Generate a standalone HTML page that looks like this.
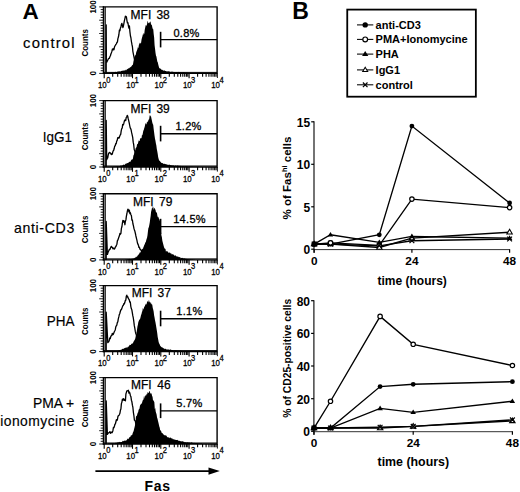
<!DOCTYPE html>
<html><head><meta charset="utf-8"><title>Figure</title><style>
html,body{margin:0;padding:0;background:#fff;width:520px;height:492px;overflow:hidden}
svg{display:block}
text{font-family:"Liberation Sans", sans-serif}
</style></head><body>
<svg width="520" height="492" viewBox="0 0 520 492">
<rect x="103.4" y="6.9" width="2.6" height="66.5" fill="#8a8a8a"/>
<polygon points="106.00,73.40 106.00,73.40 106.45,73.31 106.90,73.22 107.35,73.13 107.80,73.04 108.25,72.97 108.70,72.92 109.15,72.92 109.60,72.59 110.05,72.66 110.50,72.71 110.95,72.85 111.40,72.59 111.85,72.29 112.30,72.53 112.75,72.24 113.20,72.58 113.65,72.28 114.10,72.57 114.55,72.20 115.00,71.96 115.45,71.79 115.90,71.92 116.35,71.99 116.80,72.06 117.25,71.80 117.70,71.51 118.15,71.69 118.60,71.18 119.05,71.53 119.50,71.17 119.95,71.61 120.40,71.42 120.85,71.19 121.30,70.77 121.75,71.05 122.20,70.90 122.65,70.55 123.10,70.42 123.55,70.83 124.00,70.26 124.45,70.39 124.90,70.56 125.35,69.61 125.80,70.47 126.25,70.14 126.70,69.53 127.15,69.16 127.60,68.76 128.05,69.18 128.50,67.65 128.95,68.59 129.40,68.01 129.85,67.38 130.30,67.14 130.75,66.89 131.20,66.41 131.65,66.34 132.10,65.01 132.55,65.35 133.00,64.37 133.45,61.43 133.90,59.61 134.35,56.95 134.80,56.13 135.25,55.23 135.70,55.06 136.15,52.44 136.60,51.15 137.05,50.14 137.50,48.84 137.95,46.98 138.40,48.27 138.85,45.06 139.30,43.95 139.75,42.67 140.20,42.76 140.65,43.68 141.10,42.64 141.55,39.59 142.00,37.83 142.45,36.34 142.90,34.23 143.35,34.84 143.80,32.87 144.25,33.89 144.70,30.02 145.15,27.81 145.60,25.64 146.05,24.61 146.50,26.19 146.95,24.84 147.40,22.11 147.85,20.79 148.30,23.27 148.75,22.95 149.20,23.14 149.65,22.28 150.10,21.71 150.55,21.40 151.00,24.20 151.45,24.71 151.90,25.36 152.35,27.41 152.80,29.11 153.25,29.31 153.70,34.10 154.15,37.43 154.60,45.20 155.05,48.74 155.50,52.87 155.95,55.52 156.40,56.42 156.85,59.10 157.30,61.46 157.75,62.16 158.20,64.37 158.65,66.07 159.10,67.66 159.55,68.18 160.00,68.43 160.45,68.66 160.90,68.64 161.35,69.86 161.80,69.69 162.25,69.86 162.70,70.15 163.15,70.20 163.60,70.73 164.05,70.81 164.50,70.15 164.95,70.83 165.40,70.96 165.85,70.95 166.30,71.14 166.75,71.58 167.20,71.31 167.65,71.57 168.10,71.58 168.55,71.06 169.00,71.86 169.45,71.57 169.90,71.52 170.35,71.82 170.80,72.17 171.25,71.59 171.70,71.67 172.15,71.91 172.60,71.50 173.05,71.67 173.50,71.92 173.95,72.09 174.40,72.07 174.85,72.16 175.30,72.23 175.75,71.97 176.20,72.01 176.65,72.04 177.10,72.07 177.55,72.36 178.00,72.34 178.45,71.84 178.90,72.31 179.35,72.05 179.80,72.06 180.25,72.49 180.70,72.51 181.15,72.50 181.60,72.43 182.05,72.64 182.50,72.16 182.95,72.50 183.40,72.27 183.85,72.30 184.30,72.17 184.75,72.72 185.20,72.79 185.65,72.70 186.10,72.53 186.55,72.68 187.00,72.56 187.45,72.71 187.90,72.98 188.35,73.03 188.80,72.96 189.25,72.92 189.70,72.97 190.15,73.01 190.60,73.02 191.05,73.04 191.50,73.06 191.95,73.08 192.40,73.10 192.85,73.11 193.30,73.13 193.75,73.15 194.20,73.17 194.65,73.19 195.10,73.20 195.55,73.22 196.00,73.24 196.45,73.26 196.90,73.28 197.35,73.29 197.80,73.31 198.25,73.33 198.70,73.35 199.15,73.37 199.60,73.38 200.00,73.40 200.00,73.40" fill="#000"/>
<line x1="103.4" y1="72.4" x2="217.1" y2="72.4" stroke="#000" stroke-width="1.0"/>
<line x1="105.4" y1="6.9" x2="105.4" y2="73.4" stroke="#222" stroke-width="0.9"/>
<polyline points="106.20,73.40 106.20,24.80 106.40,62.27 106.90,61.88 107.40,60.71 107.90,59.88 108.40,58.74 108.90,58.36 109.40,58.36 109.90,56.67 110.40,55.79 110.90,54.00 111.40,52.82 111.90,51.39 112.40,49.03 112.90,49.89 113.40,48.68 113.90,49.75 114.40,47.31 114.90,45.95 115.40,45.30 115.90,44.34 116.40,43.85 116.90,42.56 117.40,42.04 117.90,38.61 118.40,37.02 118.90,34.50 119.40,30.15 119.90,30.84 120.40,28.01 120.90,27.16 121.40,24.39 121.90,23.38 122.40,25.29 122.90,27.53 123.40,25.99 123.90,23.29 124.40,20.69 124.90,18.57 125.40,16.23 125.90,16.44 126.40,16.75 126.90,20.33 127.40,22.80 127.90,22.72 128.40,25.87 128.90,28.19 129.40,25.85 129.90,31.62 130.40,35.75 130.90,37.74 131.40,41.50 131.90,44.24 132.40,46.53 132.90,51.59 133.40,54.02 133.90,56.74 134.40,59.24 134.90,60.35 135.40,61.96 135.90,63.04 136.40,65.46 136.90,66.46 137.40,68.05 137.90,69.34 138.40,70.44 138.90,71.42 139.40,72.58 139.90,73.23 140.00,73.40" fill="none" stroke="#000" stroke-width="1.3" stroke-linejoin="round"/>
<path d="M102.8,6.9 H217.1 V73.4 H102.8" fill="none" stroke="#000" stroke-width="1.4"/>
<line x1="103.4" y1="6.3" x2="103.4" y2="74.0" stroke="#000" stroke-width="1.3"/>
<line x1="99.2" y1="73.4" x2="103.4" y2="73.4" stroke="#000" stroke-width="0.9"/>
<line x1="100.7" y1="70.7" x2="103.4" y2="70.7" stroke="#000" stroke-width="0.9"/>
<line x1="100.7" y1="68.1" x2="103.4" y2="68.1" stroke="#000" stroke-width="0.9"/>
<line x1="100.7" y1="65.4" x2="103.4" y2="65.4" stroke="#000" stroke-width="0.9"/>
<line x1="100.7" y1="62.8" x2="103.4" y2="62.8" stroke="#000" stroke-width="0.9"/>
<line x1="99.2" y1="60.1" x2="103.4" y2="60.1" stroke="#000" stroke-width="0.9"/>
<line x1="100.7" y1="57.4" x2="103.4" y2="57.4" stroke="#000" stroke-width="0.9"/>
<line x1="100.7" y1="54.8" x2="103.4" y2="54.8" stroke="#000" stroke-width="0.9"/>
<line x1="100.7" y1="52.1" x2="103.4" y2="52.1" stroke="#000" stroke-width="0.9"/>
<line x1="100.7" y1="49.5" x2="103.4" y2="49.5" stroke="#000" stroke-width="0.9"/>
<line x1="99.2" y1="46.8" x2="103.4" y2="46.8" stroke="#000" stroke-width="0.9"/>
<line x1="100.7" y1="44.1" x2="103.4" y2="44.1" stroke="#000" stroke-width="0.9"/>
<line x1="100.7" y1="41.5" x2="103.4" y2="41.5" stroke="#000" stroke-width="0.9"/>
<line x1="100.7" y1="38.8" x2="103.4" y2="38.8" stroke="#000" stroke-width="0.9"/>
<line x1="100.7" y1="36.2" x2="103.4" y2="36.2" stroke="#000" stroke-width="0.9"/>
<line x1="99.2" y1="33.5" x2="103.4" y2="33.5" stroke="#000" stroke-width="0.9"/>
<line x1="100.7" y1="30.8" x2="103.4" y2="30.8" stroke="#000" stroke-width="0.9"/>
<line x1="100.7" y1="28.2" x2="103.4" y2="28.2" stroke="#000" stroke-width="0.9"/>
<line x1="100.7" y1="25.5" x2="103.4" y2="25.5" stroke="#000" stroke-width="0.9"/>
<line x1="100.7" y1="22.9" x2="103.4" y2="22.9" stroke="#000" stroke-width="0.9"/>
<line x1="99.2" y1="20.2" x2="103.4" y2="20.2" stroke="#000" stroke-width="0.9"/>
<line x1="100.7" y1="17.5" x2="103.4" y2="17.5" stroke="#000" stroke-width="0.9"/>
<line x1="100.7" y1="14.9" x2="103.4" y2="14.9" stroke="#000" stroke-width="0.9"/>
<line x1="100.7" y1="12.2" x2="103.4" y2="12.2" stroke="#000" stroke-width="0.9"/>
<line x1="100.7" y1="9.6" x2="103.4" y2="9.6" stroke="#000" stroke-width="0.9"/>
<line x1="99.2" y1="6.9" x2="103.4" y2="6.9" stroke="#000" stroke-width="0.9"/>
<line x1="104.2" y1="73.4" x2="104.2" y2="78.2" stroke="#000" stroke-width="1.1"/>
<line x1="112.7" y1="73.4" x2="112.7" y2="76.7" stroke="#000" stroke-width="1.1"/>
<line x1="117.7" y1="73.4" x2="117.7" y2="76.7" stroke="#000" stroke-width="1.1"/>
<line x1="121.2" y1="73.4" x2="121.2" y2="76.7" stroke="#000" stroke-width="1.1"/>
<line x1="124.0" y1="73.4" x2="124.0" y2="76.7" stroke="#000" stroke-width="1.1"/>
<line x1="126.2" y1="73.4" x2="126.2" y2="76.7" stroke="#000" stroke-width="1.1"/>
<line x1="128.1" y1="73.4" x2="128.1" y2="76.7" stroke="#000" stroke-width="1.1"/>
<line x1="129.8" y1="73.4" x2="129.8" y2="76.7" stroke="#000" stroke-width="1.1"/>
<line x1="131.2" y1="73.4" x2="131.2" y2="76.7" stroke="#000" stroke-width="1.1"/>
<line x1="132.5" y1="73.4" x2="132.5" y2="78.2" stroke="#000" stroke-width="1.1"/>
<line x1="141.0" y1="73.4" x2="141.0" y2="76.7" stroke="#000" stroke-width="1.1"/>
<line x1="146.0" y1="73.4" x2="146.0" y2="76.7" stroke="#000" stroke-width="1.1"/>
<line x1="149.5" y1="73.4" x2="149.5" y2="76.7" stroke="#000" stroke-width="1.1"/>
<line x1="152.3" y1="73.4" x2="152.3" y2="76.7" stroke="#000" stroke-width="1.1"/>
<line x1="154.5" y1="73.4" x2="154.5" y2="76.7" stroke="#000" stroke-width="1.1"/>
<line x1="156.4" y1="73.4" x2="156.4" y2="76.7" stroke="#000" stroke-width="1.1"/>
<line x1="158.1" y1="73.4" x2="158.1" y2="76.7" stroke="#000" stroke-width="1.1"/>
<line x1="159.5" y1="73.4" x2="159.5" y2="76.7" stroke="#000" stroke-width="1.1"/>
<line x1="160.8" y1="73.4" x2="160.8" y2="78.2" stroke="#000" stroke-width="1.1"/>
<line x1="169.3" y1="73.4" x2="169.3" y2="76.7" stroke="#000" stroke-width="1.1"/>
<line x1="174.3" y1="73.4" x2="174.3" y2="76.7" stroke="#000" stroke-width="1.1"/>
<line x1="177.8" y1="73.4" x2="177.8" y2="76.7" stroke="#000" stroke-width="1.1"/>
<line x1="180.6" y1="73.4" x2="180.6" y2="76.7" stroke="#000" stroke-width="1.1"/>
<line x1="182.8" y1="73.4" x2="182.8" y2="76.7" stroke="#000" stroke-width="1.1"/>
<line x1="184.7" y1="73.4" x2="184.7" y2="76.7" stroke="#000" stroke-width="1.1"/>
<line x1="186.4" y1="73.4" x2="186.4" y2="76.7" stroke="#000" stroke-width="1.1"/>
<line x1="187.8" y1="73.4" x2="187.8" y2="76.7" stroke="#000" stroke-width="1.1"/>
<line x1="189.1" y1="73.4" x2="189.1" y2="78.2" stroke="#000" stroke-width="1.1"/>
<line x1="197.6" y1="73.4" x2="197.6" y2="76.7" stroke="#000" stroke-width="1.1"/>
<line x1="202.6" y1="73.4" x2="202.6" y2="76.7" stroke="#000" stroke-width="1.1"/>
<line x1="206.1" y1="73.4" x2="206.1" y2="76.7" stroke="#000" stroke-width="1.1"/>
<line x1="208.9" y1="73.4" x2="208.9" y2="76.7" stroke="#000" stroke-width="1.1"/>
<line x1="211.1" y1="73.4" x2="211.1" y2="76.7" stroke="#000" stroke-width="1.1"/>
<line x1="213.0" y1="73.4" x2="213.0" y2="76.7" stroke="#000" stroke-width="1.1"/>
<line x1="214.7" y1="73.4" x2="214.7" y2="76.7" stroke="#000" stroke-width="1.1"/>
<line x1="216.1" y1="73.4" x2="216.1" y2="76.7" stroke="#000" stroke-width="1.1"/>
<line x1="217.4" y1="73.4" x2="217.4" y2="78.0" stroke="#000" stroke-width="0.9"/>
<text transform="translate(98.0,88.1) scale(0.82,1)" font-size="9.6" fill="#000" stroke="#000" stroke-width="0.3">10</text>
<text transform="translate(106.2,82.7) scale(0.84,1)" font-size="9" fill="#000" stroke="#000" stroke-width="0.3">0</text>
<text transform="translate(126.3,88.1) scale(0.82,1)" font-size="9.6" fill="#000" stroke="#000" stroke-width="0.3">10</text>
<text transform="translate(134.5,82.7) scale(0.84,1)" font-size="9" fill="#000" stroke="#000" stroke-width="0.3">1</text>
<text transform="translate(154.6,88.1) scale(0.82,1)" font-size="9.6" fill="#000" stroke="#000" stroke-width="0.3">10</text>
<text transform="translate(162.8,82.7) scale(0.84,1)" font-size="9" fill="#000" stroke="#000" stroke-width="0.3">2</text>
<text transform="translate(182.9,88.1) scale(0.82,1)" font-size="9.6" fill="#000" stroke="#000" stroke-width="0.3">10</text>
<text transform="translate(191.1,82.7) scale(0.84,1)" font-size="9" fill="#000" stroke="#000" stroke-width="0.3">3</text>
<text transform="translate(211.2,88.1) scale(0.82,1)" font-size="9.6" fill="#000" stroke="#000" stroke-width="0.3">10</text>
<text transform="translate(219.4,82.7) scale(0.84,1)" font-size="9" fill="#000" stroke="#000" stroke-width="0.3">4</text>
<text transform="translate(96.0,6.9) rotate(-90) scale(1,1.15)" text-anchor="middle" font-size="8" font-weight="bold" fill="#000">100</text>
<text transform="translate(96.0,73.4) rotate(-90) scale(1,1.15)" text-anchor="middle" font-size="8" font-weight="bold" fill="#000">0</text>
<text transform="translate(87.6,42.8) rotate(-90) scale(1,1.15)" text-anchor="middle" font-size="8" font-weight="bold" fill="#000">Counts</text>
<line x1="160.6" y1="31.8" x2="160.6" y2="47.4" stroke="#000" stroke-width="1.6"/>
<line x1="160.6" y1="39.6" x2="217.1" y2="39.6" stroke="#000" stroke-width="1.4"/>
<text x="173.4" y="37.0" font-size="11" letter-spacing="0.3" fill="#000" stroke="#000" stroke-width="0.3">0.8%</text>
<text x="130.6" y="18.8" font-size="12" fill="#000" stroke="#000" stroke-width="0.25">MFI</text>
<text x="156.4" y="18.8" font-size="12" fill="#000" stroke="#000" stroke-width="0.25">38</text>
<text transform="translate(23.1,47.5) scale(1.1,1.08)" font-size="13.5" letter-spacing="1.03" fill="#000" stroke="#000" stroke-width="0.15">control</text>
<rect x="103.4" y="100.6" width="2.6" height="66.4" fill="#8a8a8a"/>
<polygon points="110.00,167.00 110.00,166.90 110.45,166.86 110.90,166.82 111.35,166.78 111.80,166.74 112.25,166.70 112.70,166.65 113.15,166.61 113.60,166.57 114.05,166.53 114.50,166.57 114.95,166.55 115.40,166.43 115.85,166.17 116.30,166.31 116.75,166.14 117.20,166.30 117.65,166.04 118.10,166.31 118.55,166.20 119.00,166.40 119.45,166.05 119.90,165.98 120.35,165.67 120.80,165.49 121.25,165.81 121.70,165.43 122.15,165.40 122.60,165.24 123.05,165.25 123.50,164.53 123.95,164.41 124.40,164.79 124.85,165.04 125.30,163.63 125.75,163.74 126.20,163.78 126.65,163.32 127.10,163.15 127.55,162.88 128.00,163.11 128.45,162.56 128.90,162.38 129.35,161.62 129.80,161.96 130.25,161.96 130.70,161.09 131.15,160.24 131.60,159.39 132.05,159.72 132.50,159.28 132.95,158.38 133.40,155.59 133.85,154.70 134.30,152.80 134.75,151.23 135.20,150.52 135.65,148.25 136.10,147.47 136.55,147.29 137.00,144.42 137.45,144.08 137.90,143.75 138.35,141.80 138.80,140.14 139.25,140.97 139.70,140.90 140.15,137.99 140.60,138.63 141.05,137.77 141.50,138.50 141.95,134.92 142.40,135.26 142.85,133.19 143.30,130.78 143.75,130.03 144.20,128.25 144.65,127.07 145.10,125.12 145.55,122.86 146.00,124.30 146.45,124.28 146.90,122.15 147.35,121.32 147.80,122.41 148.25,120.62 148.70,119.48 149.15,119.16 149.60,115.88 150.05,114.78 150.50,116.59 150.95,116.04 151.40,118.31 151.85,120.29 152.30,122.40 152.75,124.06 153.20,124.68 153.65,128.85 154.10,132.14 154.55,135.79 155.00,138.75 155.45,140.64 155.90,143.52 156.35,145.55 156.80,148.89 157.25,151.31 157.70,153.66 158.15,156.89 158.60,158.86 159.05,160.22 159.50,160.79 159.95,161.06 160.40,161.69 160.85,162.31 161.30,162.65 161.75,162.90 162.20,162.88 162.65,163.05 163.10,164.03 163.55,163.84 164.00,163.43 164.45,164.12 164.90,163.85 165.35,164.23 165.80,164.12 166.25,164.43 166.70,164.30 167.15,164.48 167.60,164.76 168.05,164.88 168.50,164.38 168.95,165.22 169.40,164.52 169.85,164.77 170.30,165.07 170.75,165.34 171.20,165.24 171.65,165.18 172.10,165.54 172.55,165.37 173.00,165.38 173.45,165.60 173.90,165.32 174.35,165.94 174.80,165.79 175.25,165.56 175.70,165.61 176.15,165.66 176.60,165.81 177.05,165.78 177.50,165.57 177.95,165.56 178.40,165.98 178.85,165.56 179.30,165.69 179.75,166.07 180.20,165.64 180.65,166.02 181.10,166.13 181.55,166.39 182.00,166.23 182.45,166.07 182.90,165.90 183.35,166.31 183.80,166.31 184.25,166.39 184.70,166.41 185.15,166.21 185.60,166.18 186.05,166.10 186.50,166.35 186.95,166.43 187.40,166.26 187.85,166.40 188.30,166.52 188.75,166.62 189.20,166.36 189.65,166.45 190.10,166.50 190.55,166.52 191.00,166.54 191.45,166.56 191.90,166.58 192.35,166.59 192.80,166.61 193.25,166.63 193.70,166.65 194.15,166.67 194.60,166.68 195.05,166.70 195.50,166.72 195.95,166.74 196.40,166.76 196.85,166.77 197.30,166.79 197.75,166.81 198.20,166.83 198.65,166.85 199.10,166.86 199.55,166.88 200.00,166.90 200.00,166.90 200.00,167.00" fill="#000"/>
<line x1="103.4" y1="166.0" x2="217.1" y2="166.0" stroke="#000" stroke-width="1.0"/>
<line x1="105.4" y1="100.6" x2="105.4" y2="167.0" stroke="#222" stroke-width="0.9"/>
<polyline points="106.20,167.00 106.20,120.50 106.70,159.87 107.20,158.38 107.70,158.00 108.20,155.18 108.70,153.22 109.20,152.74 109.70,152.39 110.20,153.19 110.70,153.10 111.20,154.61 111.70,153.88 112.20,154.23 112.70,152.34 113.20,150.82 113.70,150.22 114.20,148.54 114.70,146.09 115.20,145.92 115.70,143.61 116.20,143.75 116.70,141.13 117.20,140.34 117.70,137.84 118.20,137.47 118.70,138.19 119.20,137.85 119.70,136.20 120.20,135.02 120.70,134.43 121.20,130.84 121.70,128.66 122.20,128.15 122.70,124.39 123.20,124.98 123.70,123.96 124.20,121.70 124.70,120.03 125.20,120.02 125.70,120.68 126.20,117.48 126.70,117.10 127.20,115.42 127.70,116.20 128.20,118.63 128.70,120.64 129.20,122.89 129.70,125.50 130.20,127.88 130.70,128.66 131.20,130.27 131.70,132.94 132.20,135.12 132.70,137.39 133.20,142.15 133.70,144.69 134.20,149.48 134.70,150.76 135.20,152.21 135.70,155.14 136.20,156.85 136.70,158.99 137.20,160.17 137.70,162.27 138.20,162.90 138.70,164.45 139.20,165.27 139.70,166.26 140.00,166.90" fill="none" stroke="#000" stroke-width="1.3" stroke-linejoin="round"/>
<path d="M102.8,100.6 H217.1 V167.0 H102.8" fill="none" stroke="#000" stroke-width="1.4"/>
<line x1="103.4" y1="100.0" x2="103.4" y2="167.6" stroke="#000" stroke-width="1.3"/>
<line x1="99.2" y1="167.0" x2="103.4" y2="167.0" stroke="#000" stroke-width="0.9"/>
<line x1="100.7" y1="164.3" x2="103.4" y2="164.3" stroke="#000" stroke-width="0.9"/>
<line x1="100.7" y1="161.7" x2="103.4" y2="161.7" stroke="#000" stroke-width="0.9"/>
<line x1="100.7" y1="159.0" x2="103.4" y2="159.0" stroke="#000" stroke-width="0.9"/>
<line x1="100.7" y1="156.4" x2="103.4" y2="156.4" stroke="#000" stroke-width="0.9"/>
<line x1="99.2" y1="153.7" x2="103.4" y2="153.7" stroke="#000" stroke-width="0.9"/>
<line x1="100.7" y1="151.1" x2="103.4" y2="151.1" stroke="#000" stroke-width="0.9"/>
<line x1="100.7" y1="148.4" x2="103.4" y2="148.4" stroke="#000" stroke-width="0.9"/>
<line x1="100.7" y1="145.8" x2="103.4" y2="145.8" stroke="#000" stroke-width="0.9"/>
<line x1="100.7" y1="143.1" x2="103.4" y2="143.1" stroke="#000" stroke-width="0.9"/>
<line x1="99.2" y1="140.4" x2="103.4" y2="140.4" stroke="#000" stroke-width="0.9"/>
<line x1="100.7" y1="137.8" x2="103.4" y2="137.8" stroke="#000" stroke-width="0.9"/>
<line x1="100.7" y1="135.1" x2="103.4" y2="135.1" stroke="#000" stroke-width="0.9"/>
<line x1="100.7" y1="132.5" x2="103.4" y2="132.5" stroke="#000" stroke-width="0.9"/>
<line x1="100.7" y1="129.8" x2="103.4" y2="129.8" stroke="#000" stroke-width="0.9"/>
<line x1="99.2" y1="127.2" x2="103.4" y2="127.2" stroke="#000" stroke-width="0.9"/>
<line x1="100.7" y1="124.5" x2="103.4" y2="124.5" stroke="#000" stroke-width="0.9"/>
<line x1="100.7" y1="121.8" x2="103.4" y2="121.8" stroke="#000" stroke-width="0.9"/>
<line x1="100.7" y1="119.2" x2="103.4" y2="119.2" stroke="#000" stroke-width="0.9"/>
<line x1="100.7" y1="116.5" x2="103.4" y2="116.5" stroke="#000" stroke-width="0.9"/>
<line x1="99.2" y1="113.9" x2="103.4" y2="113.9" stroke="#000" stroke-width="0.9"/>
<line x1="100.7" y1="111.2" x2="103.4" y2="111.2" stroke="#000" stroke-width="0.9"/>
<line x1="100.7" y1="108.6" x2="103.4" y2="108.6" stroke="#000" stroke-width="0.9"/>
<line x1="100.7" y1="105.9" x2="103.4" y2="105.9" stroke="#000" stroke-width="0.9"/>
<line x1="100.7" y1="103.3" x2="103.4" y2="103.3" stroke="#000" stroke-width="0.9"/>
<line x1="99.2" y1="100.6" x2="103.4" y2="100.6" stroke="#000" stroke-width="0.9"/>
<line x1="104.2" y1="167.0" x2="104.2" y2="171.8" stroke="#000" stroke-width="1.1"/>
<line x1="112.7" y1="167.0" x2="112.7" y2="170.3" stroke="#000" stroke-width="1.1"/>
<line x1="117.7" y1="167.0" x2="117.7" y2="170.3" stroke="#000" stroke-width="1.1"/>
<line x1="121.2" y1="167.0" x2="121.2" y2="170.3" stroke="#000" stroke-width="1.1"/>
<line x1="124.0" y1="167.0" x2="124.0" y2="170.3" stroke="#000" stroke-width="1.1"/>
<line x1="126.2" y1="167.0" x2="126.2" y2="170.3" stroke="#000" stroke-width="1.1"/>
<line x1="128.1" y1="167.0" x2="128.1" y2="170.3" stroke="#000" stroke-width="1.1"/>
<line x1="129.8" y1="167.0" x2="129.8" y2="170.3" stroke="#000" stroke-width="1.1"/>
<line x1="131.2" y1="167.0" x2="131.2" y2="170.3" stroke="#000" stroke-width="1.1"/>
<line x1="132.5" y1="167.0" x2="132.5" y2="171.8" stroke="#000" stroke-width="1.1"/>
<line x1="141.0" y1="167.0" x2="141.0" y2="170.3" stroke="#000" stroke-width="1.1"/>
<line x1="146.0" y1="167.0" x2="146.0" y2="170.3" stroke="#000" stroke-width="1.1"/>
<line x1="149.5" y1="167.0" x2="149.5" y2="170.3" stroke="#000" stroke-width="1.1"/>
<line x1="152.3" y1="167.0" x2="152.3" y2="170.3" stroke="#000" stroke-width="1.1"/>
<line x1="154.5" y1="167.0" x2="154.5" y2="170.3" stroke="#000" stroke-width="1.1"/>
<line x1="156.4" y1="167.0" x2="156.4" y2="170.3" stroke="#000" stroke-width="1.1"/>
<line x1="158.1" y1="167.0" x2="158.1" y2="170.3" stroke="#000" stroke-width="1.1"/>
<line x1="159.5" y1="167.0" x2="159.5" y2="170.3" stroke="#000" stroke-width="1.1"/>
<line x1="160.8" y1="167.0" x2="160.8" y2="171.8" stroke="#000" stroke-width="1.1"/>
<line x1="169.3" y1="167.0" x2="169.3" y2="170.3" stroke="#000" stroke-width="1.1"/>
<line x1="174.3" y1="167.0" x2="174.3" y2="170.3" stroke="#000" stroke-width="1.1"/>
<line x1="177.8" y1="167.0" x2="177.8" y2="170.3" stroke="#000" stroke-width="1.1"/>
<line x1="180.6" y1="167.0" x2="180.6" y2="170.3" stroke="#000" stroke-width="1.1"/>
<line x1="182.8" y1="167.0" x2="182.8" y2="170.3" stroke="#000" stroke-width="1.1"/>
<line x1="184.7" y1="167.0" x2="184.7" y2="170.3" stroke="#000" stroke-width="1.1"/>
<line x1="186.4" y1="167.0" x2="186.4" y2="170.3" stroke="#000" stroke-width="1.1"/>
<line x1="187.8" y1="167.0" x2="187.8" y2="170.3" stroke="#000" stroke-width="1.1"/>
<line x1="189.1" y1="167.0" x2="189.1" y2="171.8" stroke="#000" stroke-width="1.1"/>
<line x1="197.6" y1="167.0" x2="197.6" y2="170.3" stroke="#000" stroke-width="1.1"/>
<line x1="202.6" y1="167.0" x2="202.6" y2="170.3" stroke="#000" stroke-width="1.1"/>
<line x1="206.1" y1="167.0" x2="206.1" y2="170.3" stroke="#000" stroke-width="1.1"/>
<line x1="208.9" y1="167.0" x2="208.9" y2="170.3" stroke="#000" stroke-width="1.1"/>
<line x1="211.1" y1="167.0" x2="211.1" y2="170.3" stroke="#000" stroke-width="1.1"/>
<line x1="213.0" y1="167.0" x2="213.0" y2="170.3" stroke="#000" stroke-width="1.1"/>
<line x1="214.7" y1="167.0" x2="214.7" y2="170.3" stroke="#000" stroke-width="1.1"/>
<line x1="216.1" y1="167.0" x2="216.1" y2="170.3" stroke="#000" stroke-width="1.1"/>
<line x1="217.4" y1="167.0" x2="217.4" y2="171.6" stroke="#000" stroke-width="0.9"/>
<text transform="translate(98.0,181.7) scale(0.82,1)" font-size="9.6" fill="#000" stroke="#000" stroke-width="0.3">10</text>
<text transform="translate(106.2,176.3) scale(0.84,1)" font-size="9" fill="#000" stroke="#000" stroke-width="0.3">0</text>
<text transform="translate(126.3,181.7) scale(0.82,1)" font-size="9.6" fill="#000" stroke="#000" stroke-width="0.3">10</text>
<text transform="translate(134.5,176.3) scale(0.84,1)" font-size="9" fill="#000" stroke="#000" stroke-width="0.3">1</text>
<text transform="translate(154.6,181.7) scale(0.82,1)" font-size="9.6" fill="#000" stroke="#000" stroke-width="0.3">10</text>
<text transform="translate(162.8,176.3) scale(0.84,1)" font-size="9" fill="#000" stroke="#000" stroke-width="0.3">2</text>
<text transform="translate(182.9,181.7) scale(0.82,1)" font-size="9.6" fill="#000" stroke="#000" stroke-width="0.3">10</text>
<text transform="translate(191.1,176.3) scale(0.84,1)" font-size="9" fill="#000" stroke="#000" stroke-width="0.3">3</text>
<text transform="translate(211.2,181.7) scale(0.82,1)" font-size="9.6" fill="#000" stroke="#000" stroke-width="0.3">10</text>
<text transform="translate(219.4,176.3) scale(0.84,1)" font-size="9" fill="#000" stroke="#000" stroke-width="0.3">4</text>
<text transform="translate(96.0,100.6) rotate(-90) scale(1,1.15)" text-anchor="middle" font-size="8" font-weight="bold" fill="#000">100</text>
<text transform="translate(96.0,167.0) rotate(-90) scale(1,1.15)" text-anchor="middle" font-size="8" font-weight="bold" fill="#000">0</text>
<text transform="translate(87.6,136.4) rotate(-90) scale(1,1.15)" text-anchor="middle" font-size="8" font-weight="bold" fill="#000">Counts</text>
<line x1="160.6" y1="125.8" x2="160.6" y2="141.4" stroke="#000" stroke-width="1.6"/>
<line x1="160.6" y1="133.7" x2="217.1" y2="133.7" stroke="#000" stroke-width="1.4"/>
<text x="175.4" y="130.2" font-size="11" letter-spacing="0.3" fill="#000" stroke="#000" stroke-width="0.3">1.2%</text>
<text x="130.6" y="112.8" font-size="12" fill="#000" stroke="#000" stroke-width="0.25">MFI</text>
<text x="156.4" y="112.8" font-size="12" fill="#000" stroke="#000" stroke-width="0.25">39</text>
<text transform="translate(42.8,141.7) scale(1.0,1.08)" font-size="13.5" letter-spacing="0" fill="#000" stroke="#000" stroke-width="0.15">IgG1</text>
<rect x="103.4" y="193.7" width="2.6" height="66.2" fill="#8a8a8a"/>
<polygon points="125.00,259.90 125.00,259.80 125.45,259.73 125.90,259.66 126.35,259.59 126.80,259.52 127.25,259.45 127.70,259.16 128.15,259.21 128.60,259.27 129.05,258.81 129.50,258.94 129.95,258.96 130.40,258.98 130.85,259.03 131.30,259.01 131.75,258.65 132.20,259.09 132.65,258.60 133.10,258.57 133.55,258.60 134.00,258.53 134.45,257.88 134.90,257.74 135.35,257.69 135.80,256.85 136.25,257.33 136.70,256.59 137.15,256.60 137.60,255.56 138.05,255.26 138.50,254.84 138.95,253.76 139.40,253.56 139.85,252.20 140.30,252.74 140.75,251.39 141.20,250.75 141.65,250.27 142.10,249.18 142.55,248.82 143.00,248.65 143.45,247.01 143.90,246.32 144.35,244.78 144.80,244.21 145.25,242.26 145.70,242.46 146.15,240.49 146.60,238.96 147.05,237.64 147.50,235.36 147.95,231.26 148.40,228.02 148.85,227.30 149.30,225.09 149.75,222.53 150.20,219.07 150.65,216.04 151.10,211.84 151.55,210.01 152.00,207.75 152.45,208.50 152.90,205.92 153.35,207.26 153.80,210.11 154.25,207.83 154.70,208.14 155.15,209.30 155.60,210.14 156.05,212.77 156.50,212.11 156.95,212.91 157.40,215.73 157.85,217.36 158.30,216.70 158.75,218.36 159.20,219.00 159.65,221.27 160.10,218.39 160.55,224.63 161.00,232.01 161.45,235.46 161.90,237.23 162.35,240.80 162.80,242.55 163.25,244.26 163.70,245.88 164.15,247.45 164.60,248.61 165.05,248.67 165.50,249.07 165.95,251.69 166.40,250.65 166.85,251.59 167.30,251.25 167.75,251.41 168.20,252.79 168.65,252.62 169.10,252.63 169.55,252.41 170.00,252.39 170.45,253.51 170.90,253.14 171.35,253.57 171.80,254.54 172.25,254.10 172.70,254.27 173.15,254.96 173.60,254.16 174.05,254.73 174.50,255.90 174.95,255.62 175.40,255.37 175.85,255.75 176.30,256.07 176.75,256.81 177.20,256.36 177.65,256.84 178.10,256.55 178.55,257.11 179.00,257.18 179.45,256.98 179.90,257.36 180.35,257.28 180.80,258.67 181.25,257.82 181.70,257.95 182.15,258.15 182.60,257.82 183.05,258.09 183.50,258.41 183.95,258.81 184.40,258.31 184.85,258.42 185.30,258.73 185.75,258.65 186.20,258.89 186.65,258.74 187.10,258.91 187.55,259.02 188.00,259.30 188.45,259.34 188.90,259.29 189.35,259.40 189.80,259.33 190.25,259.28 190.70,259.43 191.15,259.43 191.60,259.47 192.05,259.52 192.50,259.56 192.95,259.60 193.40,259.65 193.85,259.69 194.30,259.73 194.75,259.78 195.00,259.80 195.00,259.90" fill="#000"/>
<line x1="103.4" y1="258.9" x2="217.1" y2="258.9" stroke="#000" stroke-width="1.0"/>
<line x1="105.4" y1="193.7" x2="105.4" y2="259.9" stroke="#222" stroke-width="0.9"/>
<polyline points="106.20,259.90 106.20,221.50 107.40,254.45 107.90,252.73 108.40,251.57 108.90,250.47 109.40,249.31 109.90,249.50 110.40,248.18 110.90,246.98 111.40,246.37 111.90,247.28 112.40,247.43 112.90,248.77 113.40,248.05 113.90,248.32 114.40,249.04 114.90,248.29 115.40,247.05 115.90,246.54 116.40,245.28 116.90,244.21 117.40,240.68 117.90,240.00 118.40,238.55 118.90,237.05 119.40,235.82 119.90,233.53 120.40,234.25 120.90,233.37 121.40,228.33 121.90,226.79 122.40,223.02 122.90,220.41 123.40,222.16 123.90,220.68 124.40,221.93 124.90,224.76 125.40,221.22 125.90,219.89 126.40,216.08 126.90,213.75 127.40,210.95 127.90,209.07 128.40,209.81 128.90,211.88 129.40,210.22 129.90,213.61 130.40,212.88 130.90,214.78 131.40,215.50 131.90,220.17 132.40,219.97 132.90,223.78 133.40,225.67 133.90,228.20 134.40,229.94 134.90,231.32 135.40,233.50 135.90,235.99 136.40,238.05 136.90,240.07 137.40,242.75 137.90,244.17 138.40,245.08 138.90,247.36 139.40,247.26 139.90,248.96 140.40,249.54 140.90,250.22 141.40,250.08 141.90,251.08 142.40,251.82 142.90,252.91 143.40,254.30 143.90,256.06 144.40,257.69 144.90,259.46 145.00,259.80" fill="none" stroke="#000" stroke-width="1.3" stroke-linejoin="round"/>
<path d="M102.8,193.7 H217.1 V259.9 H102.8" fill="none" stroke="#000" stroke-width="1.4"/>
<line x1="103.4" y1="193.1" x2="103.4" y2="260.5" stroke="#000" stroke-width="1.3"/>
<line x1="99.2" y1="259.9" x2="103.4" y2="259.9" stroke="#000" stroke-width="0.9"/>
<line x1="100.7" y1="257.3" x2="103.4" y2="257.3" stroke="#000" stroke-width="0.9"/>
<line x1="100.7" y1="254.6" x2="103.4" y2="254.6" stroke="#000" stroke-width="0.9"/>
<line x1="100.7" y1="252.0" x2="103.4" y2="252.0" stroke="#000" stroke-width="0.9"/>
<line x1="100.7" y1="249.3" x2="103.4" y2="249.3" stroke="#000" stroke-width="0.9"/>
<line x1="99.2" y1="246.7" x2="103.4" y2="246.7" stroke="#000" stroke-width="0.9"/>
<line x1="100.7" y1="244.0" x2="103.4" y2="244.0" stroke="#000" stroke-width="0.9"/>
<line x1="100.7" y1="241.4" x2="103.4" y2="241.4" stroke="#000" stroke-width="0.9"/>
<line x1="100.7" y1="238.7" x2="103.4" y2="238.7" stroke="#000" stroke-width="0.9"/>
<line x1="100.7" y1="236.1" x2="103.4" y2="236.1" stroke="#000" stroke-width="0.9"/>
<line x1="99.2" y1="233.4" x2="103.4" y2="233.4" stroke="#000" stroke-width="0.9"/>
<line x1="100.7" y1="230.8" x2="103.4" y2="230.8" stroke="#000" stroke-width="0.9"/>
<line x1="100.7" y1="228.1" x2="103.4" y2="228.1" stroke="#000" stroke-width="0.9"/>
<line x1="100.7" y1="225.5" x2="103.4" y2="225.5" stroke="#000" stroke-width="0.9"/>
<line x1="100.7" y1="222.8" x2="103.4" y2="222.8" stroke="#000" stroke-width="0.9"/>
<line x1="99.2" y1="220.2" x2="103.4" y2="220.2" stroke="#000" stroke-width="0.9"/>
<line x1="100.7" y1="217.5" x2="103.4" y2="217.5" stroke="#000" stroke-width="0.9"/>
<line x1="100.7" y1="214.9" x2="103.4" y2="214.9" stroke="#000" stroke-width="0.9"/>
<line x1="100.7" y1="212.2" x2="103.4" y2="212.2" stroke="#000" stroke-width="0.9"/>
<line x1="100.7" y1="209.6" x2="103.4" y2="209.6" stroke="#000" stroke-width="0.9"/>
<line x1="99.2" y1="206.9" x2="103.4" y2="206.9" stroke="#000" stroke-width="0.9"/>
<line x1="100.7" y1="204.3" x2="103.4" y2="204.3" stroke="#000" stroke-width="0.9"/>
<line x1="100.7" y1="201.6" x2="103.4" y2="201.6" stroke="#000" stroke-width="0.9"/>
<line x1="100.7" y1="199.0" x2="103.4" y2="199.0" stroke="#000" stroke-width="0.9"/>
<line x1="100.7" y1="196.3" x2="103.4" y2="196.3" stroke="#000" stroke-width="0.9"/>
<line x1="99.2" y1="193.7" x2="103.4" y2="193.7" stroke="#000" stroke-width="0.9"/>
<line x1="104.2" y1="259.9" x2="104.2" y2="264.7" stroke="#000" stroke-width="1.1"/>
<line x1="112.7" y1="259.9" x2="112.7" y2="263.2" stroke="#000" stroke-width="1.1"/>
<line x1="117.7" y1="259.9" x2="117.7" y2="263.2" stroke="#000" stroke-width="1.1"/>
<line x1="121.2" y1="259.9" x2="121.2" y2="263.2" stroke="#000" stroke-width="1.1"/>
<line x1="124.0" y1="259.9" x2="124.0" y2="263.2" stroke="#000" stroke-width="1.1"/>
<line x1="126.2" y1="259.9" x2="126.2" y2="263.2" stroke="#000" stroke-width="1.1"/>
<line x1="128.1" y1="259.9" x2="128.1" y2="263.2" stroke="#000" stroke-width="1.1"/>
<line x1="129.8" y1="259.9" x2="129.8" y2="263.2" stroke="#000" stroke-width="1.1"/>
<line x1="131.2" y1="259.9" x2="131.2" y2="263.2" stroke="#000" stroke-width="1.1"/>
<line x1="132.5" y1="259.9" x2="132.5" y2="264.7" stroke="#000" stroke-width="1.1"/>
<line x1="141.0" y1="259.9" x2="141.0" y2="263.2" stroke="#000" stroke-width="1.1"/>
<line x1="146.0" y1="259.9" x2="146.0" y2="263.2" stroke="#000" stroke-width="1.1"/>
<line x1="149.5" y1="259.9" x2="149.5" y2="263.2" stroke="#000" stroke-width="1.1"/>
<line x1="152.3" y1="259.9" x2="152.3" y2="263.2" stroke="#000" stroke-width="1.1"/>
<line x1="154.5" y1="259.9" x2="154.5" y2="263.2" stroke="#000" stroke-width="1.1"/>
<line x1="156.4" y1="259.9" x2="156.4" y2="263.2" stroke="#000" stroke-width="1.1"/>
<line x1="158.1" y1="259.9" x2="158.1" y2="263.2" stroke="#000" stroke-width="1.1"/>
<line x1="159.5" y1="259.9" x2="159.5" y2="263.2" stroke="#000" stroke-width="1.1"/>
<line x1="160.8" y1="259.9" x2="160.8" y2="264.7" stroke="#000" stroke-width="1.1"/>
<line x1="169.3" y1="259.9" x2="169.3" y2="263.2" stroke="#000" stroke-width="1.1"/>
<line x1="174.3" y1="259.9" x2="174.3" y2="263.2" stroke="#000" stroke-width="1.1"/>
<line x1="177.8" y1="259.9" x2="177.8" y2="263.2" stroke="#000" stroke-width="1.1"/>
<line x1="180.6" y1="259.9" x2="180.6" y2="263.2" stroke="#000" stroke-width="1.1"/>
<line x1="182.8" y1="259.9" x2="182.8" y2="263.2" stroke="#000" stroke-width="1.1"/>
<line x1="184.7" y1="259.9" x2="184.7" y2="263.2" stroke="#000" stroke-width="1.1"/>
<line x1="186.4" y1="259.9" x2="186.4" y2="263.2" stroke="#000" stroke-width="1.1"/>
<line x1="187.8" y1="259.9" x2="187.8" y2="263.2" stroke="#000" stroke-width="1.1"/>
<line x1="189.1" y1="259.9" x2="189.1" y2="264.7" stroke="#000" stroke-width="1.1"/>
<line x1="197.6" y1="259.9" x2="197.6" y2="263.2" stroke="#000" stroke-width="1.1"/>
<line x1="202.6" y1="259.9" x2="202.6" y2="263.2" stroke="#000" stroke-width="1.1"/>
<line x1="206.1" y1="259.9" x2="206.1" y2="263.2" stroke="#000" stroke-width="1.1"/>
<line x1="208.9" y1="259.9" x2="208.9" y2="263.2" stroke="#000" stroke-width="1.1"/>
<line x1="211.1" y1="259.9" x2="211.1" y2="263.2" stroke="#000" stroke-width="1.1"/>
<line x1="213.0" y1="259.9" x2="213.0" y2="263.2" stroke="#000" stroke-width="1.1"/>
<line x1="214.7" y1="259.9" x2="214.7" y2="263.2" stroke="#000" stroke-width="1.1"/>
<line x1="216.1" y1="259.9" x2="216.1" y2="263.2" stroke="#000" stroke-width="1.1"/>
<line x1="217.4" y1="259.9" x2="217.4" y2="264.5" stroke="#000" stroke-width="0.9"/>
<text transform="translate(98.0,274.6) scale(0.82,1)" font-size="9.6" fill="#000" stroke="#000" stroke-width="0.3">10</text>
<text transform="translate(106.2,269.2) scale(0.84,1)" font-size="9" fill="#000" stroke="#000" stroke-width="0.3">0</text>
<text transform="translate(126.3,274.6) scale(0.82,1)" font-size="9.6" fill="#000" stroke="#000" stroke-width="0.3">10</text>
<text transform="translate(134.5,269.2) scale(0.84,1)" font-size="9" fill="#000" stroke="#000" stroke-width="0.3">1</text>
<text transform="translate(154.6,274.6) scale(0.82,1)" font-size="9.6" fill="#000" stroke="#000" stroke-width="0.3">10</text>
<text transform="translate(162.8,269.2) scale(0.84,1)" font-size="9" fill="#000" stroke="#000" stroke-width="0.3">2</text>
<text transform="translate(182.9,274.6) scale(0.82,1)" font-size="9.6" fill="#000" stroke="#000" stroke-width="0.3">10</text>
<text transform="translate(191.1,269.2) scale(0.84,1)" font-size="9" fill="#000" stroke="#000" stroke-width="0.3">3</text>
<text transform="translate(211.2,274.6) scale(0.82,1)" font-size="9.6" fill="#000" stroke="#000" stroke-width="0.3">10</text>
<text transform="translate(219.4,269.2) scale(0.84,1)" font-size="9" fill="#000" stroke="#000" stroke-width="0.3">4</text>
<text transform="translate(96.0,193.7) rotate(-90) scale(1,1.15)" text-anchor="middle" font-size="8" font-weight="bold" fill="#000">100</text>
<text transform="translate(96.0,259.9) rotate(-90) scale(1,1.15)" text-anchor="middle" font-size="8" font-weight="bold" fill="#000">0</text>
<text transform="translate(87.6,229.4) rotate(-90) scale(1,1.15)" text-anchor="middle" font-size="8" font-weight="bold" fill="#000">Counts</text>
<line x1="160.6" y1="218.8" x2="160.6" y2="234.0" stroke="#000" stroke-width="1.6"/>
<line x1="160.6" y1="226.6" x2="217.1" y2="226.6" stroke="#000" stroke-width="1.4"/>
<text x="173.2" y="222.8" font-size="11" letter-spacing="0.3" fill="#000" stroke="#000" stroke-width="0.3">14.5%</text>
<text x="133.0" y="205.5" font-size="12" fill="#000" stroke="#000" stroke-width="0.25">MFI</text>
<text x="159.0" y="205.5" font-size="12" fill="#000" stroke="#000" stroke-width="0.25">79</text>
<text transform="translate(13.9,233.4) scale(1.05,1.08)" font-size="13.5" letter-spacing="0.62" fill="#000" stroke="#000" stroke-width="0.15">anti-CD3</text>
<rect x="103.4" y="285.6" width="2.6" height="66.0" fill="#8a8a8a"/>
<polygon points="110.00,351.60 110.00,351.50 110.45,351.48 110.90,351.45 111.35,351.43 111.80,351.40 112.25,351.38 112.70,351.35 113.15,351.33 113.60,351.31 114.05,351.28 114.50,351.26 114.95,351.23 115.40,351.21 115.85,351.18 116.30,351.16 116.75,351.14 117.20,351.11 117.65,350.87 118.10,350.69 118.55,350.48 119.00,350.29 119.45,349.89 119.90,350.24 120.35,349.96 120.80,349.66 121.25,349.65 121.70,349.57 122.15,349.02 122.60,348.87 123.05,348.97 123.50,348.64 123.95,348.57 124.40,348.10 124.85,348.32 125.30,347.50 125.75,348.04 126.20,347.35 126.65,347.56 127.10,348.32 127.55,346.65 128.00,347.04 128.45,346.63 128.90,345.95 129.35,345.62 129.80,344.78 130.25,344.93 130.70,345.00 131.15,344.20 131.60,343.75 132.05,343.52 132.50,343.65 132.95,342.82 133.40,342.31 133.85,340.88 134.30,340.57 134.75,339.84 135.20,338.78 135.65,336.78 136.10,335.50 136.55,332.29 137.00,329.77 137.45,326.60 137.90,324.75 138.35,322.05 138.80,321.12 139.25,319.64 139.70,319.62 140.15,318.64 140.60,317.10 141.05,315.11 141.50,313.97 141.95,312.06 142.40,311.09 142.85,307.95 143.30,308.59 143.75,309.85 144.20,306.56 144.65,306.69 145.10,305.21 145.55,304.50 146.00,303.39 146.45,304.71 146.90,302.77 147.35,301.37 147.80,301.31 148.25,302.39 148.70,300.28 149.15,300.45 149.60,302.39 150.05,301.67 150.50,303.80 150.95,301.88 151.40,304.68 151.85,303.68 152.30,304.92 152.75,307.88 153.20,309.46 153.65,311.61 154.10,315.22 154.55,317.61 155.00,320.22 155.45,322.13 155.90,324.83 156.35,327.54 156.80,330.33 157.25,333.25 157.70,337.04 158.15,339.30 158.60,341.87 159.05,343.20 159.50,343.97 159.95,344.88 160.40,346.28 160.85,346.30 161.30,347.02 161.75,347.36 162.20,347.49 162.65,347.57 163.10,347.88 163.55,348.28 164.00,348.60 164.45,348.74 164.90,349.16 165.35,349.03 165.80,348.48 166.25,349.49 166.70,349.52 167.15,349.29 167.60,349.71 168.05,349.30 168.50,349.50 168.95,349.72 169.40,349.63 169.85,349.86 170.30,349.54 170.75,349.52 171.20,349.87 171.65,350.33 172.10,349.96 172.55,350.26 173.00,350.08 173.45,350.39 173.90,350.64 174.35,350.30 174.80,350.27 175.25,350.48 175.70,350.12 176.15,350.09 176.60,350.51 177.05,350.66 177.50,350.28 177.95,350.80 178.40,350.53 178.85,350.63 179.30,350.50 179.75,351.01 180.20,350.62 180.65,350.84 181.10,350.56 181.55,351.42 182.00,350.91 182.45,351.15 182.90,350.88 183.35,350.98 183.80,350.88 184.25,351.02 184.70,351.01 185.15,350.92 185.60,351.00 186.05,351.14 186.50,350.95 186.95,351.12 187.40,351.15 187.85,351.18 188.30,351.20 188.75,351.23 189.20,351.25 189.65,351.28 190.10,351.30 190.55,351.31 191.00,351.32 191.45,351.33 191.90,351.34 192.35,351.35 192.80,351.36 193.25,351.36 193.70,351.37 194.15,351.38 194.60,351.39 195.05,351.40 195.50,351.41 195.95,351.42 196.40,351.43 196.85,351.44 197.30,351.45 197.75,351.45 198.20,351.46 198.65,351.47 199.10,351.48 199.55,351.49 200.00,351.50 200.00,351.50 200.00,351.60" fill="#000"/>
<line x1="103.4" y1="350.6" x2="217.1" y2="350.6" stroke="#000" stroke-width="1.0"/>
<line x1="105.4" y1="285.6" x2="105.4" y2="351.6" stroke="#222" stroke-width="0.9"/>
<polyline points="106.20,351.60 106.20,312.20 107.80,342.62 108.30,341.99 108.80,341.63 109.30,340.25 109.80,337.99 110.30,338.52 110.80,336.36 111.30,335.78 111.80,335.06 112.30,333.40 112.80,334.72 113.30,334.29 113.80,332.92 114.30,331.74 114.80,330.81 115.30,329.70 115.80,326.79 116.30,325.92 116.80,325.06 117.30,322.62 117.80,321.90 118.30,318.96 118.80,316.91 119.30,314.62 119.80,313.47 120.30,311.48 120.80,309.93 121.30,309.63 121.80,308.65 122.30,307.12 122.80,305.76 123.30,305.39 123.80,303.74 124.30,304.01 124.80,302.59 125.30,300.48 125.80,300.14 126.30,296.31 126.80,295.13 127.30,296.98 127.80,296.70 128.30,298.44 128.80,299.23 129.30,299.98 129.80,302.07 130.30,301.89 130.80,306.33 131.30,308.59 131.80,309.69 132.30,312.60 132.80,315.70 133.30,317.98 133.80,321.46 134.30,325.68 134.80,328.22 135.30,331.45 135.80,333.51 136.30,334.78 136.80,337.84 137.30,339.57 137.80,341.90 138.30,343.04 138.80,346.03 139.30,348.27 139.80,350.64 140.00,351.50" fill="none" stroke="#000" stroke-width="1.3" stroke-linejoin="round"/>
<path d="M102.8,285.6 H217.1 V351.6 H102.8" fill="none" stroke="#000" stroke-width="1.4"/>
<line x1="103.4" y1="285.0" x2="103.4" y2="352.2" stroke="#000" stroke-width="1.3"/>
<line x1="99.2" y1="351.6" x2="103.4" y2="351.6" stroke="#000" stroke-width="0.9"/>
<line x1="100.7" y1="349.0" x2="103.4" y2="349.0" stroke="#000" stroke-width="0.9"/>
<line x1="100.7" y1="346.3" x2="103.4" y2="346.3" stroke="#000" stroke-width="0.9"/>
<line x1="100.7" y1="343.7" x2="103.4" y2="343.7" stroke="#000" stroke-width="0.9"/>
<line x1="100.7" y1="341.0" x2="103.4" y2="341.0" stroke="#000" stroke-width="0.9"/>
<line x1="99.2" y1="338.4" x2="103.4" y2="338.4" stroke="#000" stroke-width="0.9"/>
<line x1="100.7" y1="335.8" x2="103.4" y2="335.8" stroke="#000" stroke-width="0.9"/>
<line x1="100.7" y1="333.1" x2="103.4" y2="333.1" stroke="#000" stroke-width="0.9"/>
<line x1="100.7" y1="330.5" x2="103.4" y2="330.5" stroke="#000" stroke-width="0.9"/>
<line x1="100.7" y1="327.8" x2="103.4" y2="327.8" stroke="#000" stroke-width="0.9"/>
<line x1="99.2" y1="325.2" x2="103.4" y2="325.2" stroke="#000" stroke-width="0.9"/>
<line x1="100.7" y1="322.6" x2="103.4" y2="322.6" stroke="#000" stroke-width="0.9"/>
<line x1="100.7" y1="319.9" x2="103.4" y2="319.9" stroke="#000" stroke-width="0.9"/>
<line x1="100.7" y1="317.3" x2="103.4" y2="317.3" stroke="#000" stroke-width="0.9"/>
<line x1="100.7" y1="314.6" x2="103.4" y2="314.6" stroke="#000" stroke-width="0.9"/>
<line x1="99.2" y1="312.0" x2="103.4" y2="312.0" stroke="#000" stroke-width="0.9"/>
<line x1="100.7" y1="309.4" x2="103.4" y2="309.4" stroke="#000" stroke-width="0.9"/>
<line x1="100.7" y1="306.7" x2="103.4" y2="306.7" stroke="#000" stroke-width="0.9"/>
<line x1="100.7" y1="304.1" x2="103.4" y2="304.1" stroke="#000" stroke-width="0.9"/>
<line x1="100.7" y1="301.4" x2="103.4" y2="301.4" stroke="#000" stroke-width="0.9"/>
<line x1="99.2" y1="298.8" x2="103.4" y2="298.8" stroke="#000" stroke-width="0.9"/>
<line x1="100.7" y1="296.2" x2="103.4" y2="296.2" stroke="#000" stroke-width="0.9"/>
<line x1="100.7" y1="293.5" x2="103.4" y2="293.5" stroke="#000" stroke-width="0.9"/>
<line x1="100.7" y1="290.9" x2="103.4" y2="290.9" stroke="#000" stroke-width="0.9"/>
<line x1="100.7" y1="288.2" x2="103.4" y2="288.2" stroke="#000" stroke-width="0.9"/>
<line x1="99.2" y1="285.6" x2="103.4" y2="285.6" stroke="#000" stroke-width="0.9"/>
<line x1="104.2" y1="351.6" x2="104.2" y2="356.4" stroke="#000" stroke-width="1.1"/>
<line x1="112.7" y1="351.6" x2="112.7" y2="354.9" stroke="#000" stroke-width="1.1"/>
<line x1="117.7" y1="351.6" x2="117.7" y2="354.9" stroke="#000" stroke-width="1.1"/>
<line x1="121.2" y1="351.6" x2="121.2" y2="354.9" stroke="#000" stroke-width="1.1"/>
<line x1="124.0" y1="351.6" x2="124.0" y2="354.9" stroke="#000" stroke-width="1.1"/>
<line x1="126.2" y1="351.6" x2="126.2" y2="354.9" stroke="#000" stroke-width="1.1"/>
<line x1="128.1" y1="351.6" x2="128.1" y2="354.9" stroke="#000" stroke-width="1.1"/>
<line x1="129.8" y1="351.6" x2="129.8" y2="354.9" stroke="#000" stroke-width="1.1"/>
<line x1="131.2" y1="351.6" x2="131.2" y2="354.9" stroke="#000" stroke-width="1.1"/>
<line x1="132.5" y1="351.6" x2="132.5" y2="356.4" stroke="#000" stroke-width="1.1"/>
<line x1="141.0" y1="351.6" x2="141.0" y2="354.9" stroke="#000" stroke-width="1.1"/>
<line x1="146.0" y1="351.6" x2="146.0" y2="354.9" stroke="#000" stroke-width="1.1"/>
<line x1="149.5" y1="351.6" x2="149.5" y2="354.9" stroke="#000" stroke-width="1.1"/>
<line x1="152.3" y1="351.6" x2="152.3" y2="354.9" stroke="#000" stroke-width="1.1"/>
<line x1="154.5" y1="351.6" x2="154.5" y2="354.9" stroke="#000" stroke-width="1.1"/>
<line x1="156.4" y1="351.6" x2="156.4" y2="354.9" stroke="#000" stroke-width="1.1"/>
<line x1="158.1" y1="351.6" x2="158.1" y2="354.9" stroke="#000" stroke-width="1.1"/>
<line x1="159.5" y1="351.6" x2="159.5" y2="354.9" stroke="#000" stroke-width="1.1"/>
<line x1="160.8" y1="351.6" x2="160.8" y2="356.4" stroke="#000" stroke-width="1.1"/>
<line x1="169.3" y1="351.6" x2="169.3" y2="354.9" stroke="#000" stroke-width="1.1"/>
<line x1="174.3" y1="351.6" x2="174.3" y2="354.9" stroke="#000" stroke-width="1.1"/>
<line x1="177.8" y1="351.6" x2="177.8" y2="354.9" stroke="#000" stroke-width="1.1"/>
<line x1="180.6" y1="351.6" x2="180.6" y2="354.9" stroke="#000" stroke-width="1.1"/>
<line x1="182.8" y1="351.6" x2="182.8" y2="354.9" stroke="#000" stroke-width="1.1"/>
<line x1="184.7" y1="351.6" x2="184.7" y2="354.9" stroke="#000" stroke-width="1.1"/>
<line x1="186.4" y1="351.6" x2="186.4" y2="354.9" stroke="#000" stroke-width="1.1"/>
<line x1="187.8" y1="351.6" x2="187.8" y2="354.9" stroke="#000" stroke-width="1.1"/>
<line x1="189.1" y1="351.6" x2="189.1" y2="356.4" stroke="#000" stroke-width="1.1"/>
<line x1="197.6" y1="351.6" x2="197.6" y2="354.9" stroke="#000" stroke-width="1.1"/>
<line x1="202.6" y1="351.6" x2="202.6" y2="354.9" stroke="#000" stroke-width="1.1"/>
<line x1="206.1" y1="351.6" x2="206.1" y2="354.9" stroke="#000" stroke-width="1.1"/>
<line x1="208.9" y1="351.6" x2="208.9" y2="354.9" stroke="#000" stroke-width="1.1"/>
<line x1="211.1" y1="351.6" x2="211.1" y2="354.9" stroke="#000" stroke-width="1.1"/>
<line x1="213.0" y1="351.6" x2="213.0" y2="354.9" stroke="#000" stroke-width="1.1"/>
<line x1="214.7" y1="351.6" x2="214.7" y2="354.9" stroke="#000" stroke-width="1.1"/>
<line x1="216.1" y1="351.6" x2="216.1" y2="354.9" stroke="#000" stroke-width="1.1"/>
<line x1="217.4" y1="351.6" x2="217.4" y2="356.2" stroke="#000" stroke-width="0.9"/>
<text transform="translate(98.0,366.3) scale(0.82,1)" font-size="9.6" fill="#000" stroke="#000" stroke-width="0.3">10</text>
<text transform="translate(106.2,360.9) scale(0.84,1)" font-size="9" fill="#000" stroke="#000" stroke-width="0.3">0</text>
<text transform="translate(126.3,366.3) scale(0.82,1)" font-size="9.6" fill="#000" stroke="#000" stroke-width="0.3">10</text>
<text transform="translate(134.5,360.9) scale(0.84,1)" font-size="9" fill="#000" stroke="#000" stroke-width="0.3">1</text>
<text transform="translate(154.6,366.3) scale(0.82,1)" font-size="9.6" fill="#000" stroke="#000" stroke-width="0.3">10</text>
<text transform="translate(162.8,360.9) scale(0.84,1)" font-size="9" fill="#000" stroke="#000" stroke-width="0.3">2</text>
<text transform="translate(182.9,366.3) scale(0.82,1)" font-size="9.6" fill="#000" stroke="#000" stroke-width="0.3">10</text>
<text transform="translate(191.1,360.9) scale(0.84,1)" font-size="9" fill="#000" stroke="#000" stroke-width="0.3">3</text>
<text transform="translate(211.2,366.3) scale(0.82,1)" font-size="9.6" fill="#000" stroke="#000" stroke-width="0.3">10</text>
<text transform="translate(219.4,360.9) scale(0.84,1)" font-size="9" fill="#000" stroke="#000" stroke-width="0.3">4</text>
<text transform="translate(96.0,285.6) rotate(-90) scale(1,1.15)" text-anchor="middle" font-size="8" font-weight="bold" fill="#000">100</text>
<text transform="translate(96.0,351.6) rotate(-90) scale(1,1.15)" text-anchor="middle" font-size="8" font-weight="bold" fill="#000">0</text>
<text transform="translate(87.6,321.2) rotate(-90) scale(1,1.15)" text-anchor="middle" font-size="8" font-weight="bold" fill="#000">Counts</text>
<line x1="160.6" y1="310.7" x2="160.6" y2="326.3" stroke="#000" stroke-width="1.6"/>
<line x1="160.6" y1="318.8" x2="217.1" y2="318.8" stroke="#000" stroke-width="1.4"/>
<text x="176.3" y="314.7" font-size="11" letter-spacing="0.3" fill="#000" stroke="#000" stroke-width="0.3">1.1%</text>
<text x="131.8" y="297.4" font-size="12" fill="#000" stroke="#000" stroke-width="0.25">MFI</text>
<text x="157.6" y="297.4" font-size="12" fill="#000" stroke="#000" stroke-width="0.25">37</text>
<text transform="translate(46.7,326.2) scale(1.0,1.08)" font-size="13.5" letter-spacing="0" fill="#000" stroke="#000" stroke-width="0.15">PHA</text>
<rect x="103.4" y="377.6" width="2.6" height="66.4" fill="#8a8a8a"/>
<polygon points="108.00,444.00 108.00,443.50 108.45,443.48 108.90,443.50 109.35,443.47 109.80,443.38 110.25,443.47 110.70,443.15 111.15,443.19 111.60,443.30 112.05,443.30 112.50,443.16 112.95,443.17 113.40,443.17 113.85,443.04 114.30,443.60 114.75,443.18 115.20,443.00 115.65,442.75 116.10,442.74 116.55,442.69 117.00,442.76 117.45,442.15 117.90,442.40 118.35,442.50 118.80,442.10 119.25,441.69 119.70,442.26 120.15,442.07 120.60,442.32 121.05,442.07 121.50,441.91 121.95,441.90 122.40,441.25 122.85,440.81 123.30,441.29 123.75,441.05 124.20,440.42 124.65,440.78 125.10,440.80 125.55,440.66 126.00,440.14 126.45,440.43 126.90,439.72 127.35,438.97 127.80,438.49 128.25,439.14 128.70,438.41 129.15,437.84 129.60,436.94 130.05,437.26 130.50,436.53 130.95,435.36 131.40,435.54 131.85,434.96 132.30,434.63 132.75,432.95 133.20,431.97 133.65,431.06 134.10,428.91 134.55,427.18 135.00,425.17 135.45,422.72 135.90,417.36 136.35,415.80 136.80,416.12 137.25,414.14 137.70,412.79 138.15,412.27 138.60,409.72 139.05,409.35 139.50,408.54 139.95,405.79 140.40,404.67 140.85,404.14 141.30,403.98 141.75,403.23 142.20,402.29 142.65,400.45 143.10,400.10 143.55,399.21 144.00,395.63 144.45,398.77 144.90,395.94 145.35,396.24 145.80,394.86 146.25,395.58 146.70,393.81 147.15,394.24 147.60,392.27 148.05,392.15 148.50,392.91 148.95,392.79 149.40,390.90 149.85,390.88 150.30,394.33 150.75,392.84 151.20,393.26 151.65,393.99 152.10,396.02 152.55,396.68 153.00,400.43 153.45,400.34 153.90,401.13 154.35,402.28 154.80,409.08 155.25,408.08 155.70,411.55 156.15,412.90 156.60,414.39 157.05,417.45 157.50,418.65 157.95,420.82 158.40,422.47 158.85,424.55 159.30,426.49 159.75,427.86 160.20,430.38 160.65,430.31 161.10,430.96 161.55,432.57 162.00,433.28 162.45,432.99 162.90,433.70 163.35,434.48 163.80,434.55 164.25,435.16 164.70,435.20 165.15,435.30 165.60,435.40 166.05,435.32 166.50,436.00 166.95,436.39 167.40,437.49 167.85,436.98 168.30,437.19 168.75,437.61 169.20,438.17 169.65,437.70 170.10,437.00 170.55,437.89 171.00,437.80 171.45,438.68 171.90,438.08 172.35,438.39 172.80,439.16 173.25,439.20 173.70,439.30 174.15,439.23 174.60,439.58 175.05,440.21 175.50,439.48 175.95,439.88 176.40,439.91 176.85,440.02 177.30,440.31 177.75,439.82 178.20,440.23 178.65,440.94 179.10,440.95 179.55,440.80 180.00,440.80 180.45,441.19 180.90,441.15 181.35,441.21 181.80,441.43 182.25,441.28 182.70,441.28 183.15,441.56 183.60,441.64 184.05,441.63 184.50,442.19 184.95,442.16 185.40,442.12 185.85,442.39 186.30,442.46 186.75,442.28 187.20,442.25 187.65,442.23 188.10,442.47 188.55,442.40 189.00,442.26 189.45,442.64 189.90,442.18 190.35,442.66 190.80,442.69 191.25,442.31 191.70,442.52 192.15,442.83 192.60,442.81 193.05,442.70 193.50,443.02 193.95,443.00 194.40,442.76 194.85,443.28 195.30,442.89 195.75,442.97 196.20,442.98 196.65,443.07 197.10,443.35 197.55,443.18 198.00,443.25 198.45,443.43 198.90,443.29 199.35,443.44 199.80,443.24 200.25,443.63 200.70,443.42 201.15,443.38 201.60,443.49 202.00,443.50 202.00,444.00" fill="#000"/>
<line x1="103.4" y1="443.0" x2="217.1" y2="443.0" stroke="#000" stroke-width="1.0"/>
<line x1="105.4" y1="377.6" x2="105.4" y2="444.0" stroke="#222" stroke-width="0.9"/>
<polyline points="106.20,444.00 106.20,400.80 107.40,434.45 107.90,433.54 108.40,433.08 108.90,432.60 109.40,432.45 109.90,431.69 110.40,433.31 110.90,432.04 111.40,432.14 111.90,432.81 112.40,432.09 112.90,430.68 113.40,427.49 113.90,427.73 114.40,426.37 114.90,424.23 115.40,423.87 115.90,421.75 116.40,419.70 116.90,420.50 117.40,419.77 117.90,416.60 118.40,415.66 118.90,415.46 119.40,414.50 119.90,413.33 120.40,410.34 120.90,409.05 121.40,403.67 121.90,402.07 122.40,399.06 122.90,400.37 123.40,398.56 123.90,399.49 124.40,400.31 124.90,399.13 125.40,400.92 125.90,394.03 126.40,392.38 126.90,390.82 127.40,390.87 127.90,390.55 128.40,390.27 128.90,393.19 129.40,392.05 129.90,393.35 130.40,395.74 130.90,396.65 131.40,400.20 131.90,401.80 132.40,405.19 132.90,407.44 133.40,412.50 133.90,415.64 134.40,420.09 134.90,420.42 135.40,421.38 135.90,424.60 136.40,426.12 136.90,429.05 137.40,431.40 137.90,433.53 138.40,436.51 138.90,437.85 139.40,440.82 139.90,443.18 140.00,443.50" fill="none" stroke="#000" stroke-width="1.3" stroke-linejoin="round"/>
<path d="M102.8,377.6 H217.1 V444.0 H102.8" fill="none" stroke="#000" stroke-width="1.4"/>
<line x1="103.4" y1="377.0" x2="103.4" y2="444.6" stroke="#000" stroke-width="1.3"/>
<line x1="99.2" y1="444.0" x2="103.4" y2="444.0" stroke="#000" stroke-width="0.9"/>
<line x1="100.7" y1="441.3" x2="103.4" y2="441.3" stroke="#000" stroke-width="0.9"/>
<line x1="100.7" y1="438.7" x2="103.4" y2="438.7" stroke="#000" stroke-width="0.9"/>
<line x1="100.7" y1="436.0" x2="103.4" y2="436.0" stroke="#000" stroke-width="0.9"/>
<line x1="100.7" y1="433.4" x2="103.4" y2="433.4" stroke="#000" stroke-width="0.9"/>
<line x1="99.2" y1="430.7" x2="103.4" y2="430.7" stroke="#000" stroke-width="0.9"/>
<line x1="100.7" y1="428.1" x2="103.4" y2="428.1" stroke="#000" stroke-width="0.9"/>
<line x1="100.7" y1="425.4" x2="103.4" y2="425.4" stroke="#000" stroke-width="0.9"/>
<line x1="100.7" y1="422.8" x2="103.4" y2="422.8" stroke="#000" stroke-width="0.9"/>
<line x1="100.7" y1="420.1" x2="103.4" y2="420.1" stroke="#000" stroke-width="0.9"/>
<line x1="99.2" y1="417.4" x2="103.4" y2="417.4" stroke="#000" stroke-width="0.9"/>
<line x1="100.7" y1="414.8" x2="103.4" y2="414.8" stroke="#000" stroke-width="0.9"/>
<line x1="100.7" y1="412.1" x2="103.4" y2="412.1" stroke="#000" stroke-width="0.9"/>
<line x1="100.7" y1="409.5" x2="103.4" y2="409.5" stroke="#000" stroke-width="0.9"/>
<line x1="100.7" y1="406.8" x2="103.4" y2="406.8" stroke="#000" stroke-width="0.9"/>
<line x1="99.2" y1="404.2" x2="103.4" y2="404.2" stroke="#000" stroke-width="0.9"/>
<line x1="100.7" y1="401.5" x2="103.4" y2="401.5" stroke="#000" stroke-width="0.9"/>
<line x1="100.7" y1="398.8" x2="103.4" y2="398.8" stroke="#000" stroke-width="0.9"/>
<line x1="100.7" y1="396.2" x2="103.4" y2="396.2" stroke="#000" stroke-width="0.9"/>
<line x1="100.7" y1="393.5" x2="103.4" y2="393.5" stroke="#000" stroke-width="0.9"/>
<line x1="99.2" y1="390.9" x2="103.4" y2="390.9" stroke="#000" stroke-width="0.9"/>
<line x1="100.7" y1="388.2" x2="103.4" y2="388.2" stroke="#000" stroke-width="0.9"/>
<line x1="100.7" y1="385.6" x2="103.4" y2="385.6" stroke="#000" stroke-width="0.9"/>
<line x1="100.7" y1="382.9" x2="103.4" y2="382.9" stroke="#000" stroke-width="0.9"/>
<line x1="100.7" y1="380.3" x2="103.4" y2="380.3" stroke="#000" stroke-width="0.9"/>
<line x1="99.2" y1="377.6" x2="103.4" y2="377.6" stroke="#000" stroke-width="0.9"/>
<line x1="104.2" y1="444.0" x2="104.2" y2="448.8" stroke="#000" stroke-width="1.1"/>
<line x1="112.7" y1="444.0" x2="112.7" y2="447.3" stroke="#000" stroke-width="1.1"/>
<line x1="117.7" y1="444.0" x2="117.7" y2="447.3" stroke="#000" stroke-width="1.1"/>
<line x1="121.2" y1="444.0" x2="121.2" y2="447.3" stroke="#000" stroke-width="1.1"/>
<line x1="124.0" y1="444.0" x2="124.0" y2="447.3" stroke="#000" stroke-width="1.1"/>
<line x1="126.2" y1="444.0" x2="126.2" y2="447.3" stroke="#000" stroke-width="1.1"/>
<line x1="128.1" y1="444.0" x2="128.1" y2="447.3" stroke="#000" stroke-width="1.1"/>
<line x1="129.8" y1="444.0" x2="129.8" y2="447.3" stroke="#000" stroke-width="1.1"/>
<line x1="131.2" y1="444.0" x2="131.2" y2="447.3" stroke="#000" stroke-width="1.1"/>
<line x1="132.5" y1="444.0" x2="132.5" y2="448.8" stroke="#000" stroke-width="1.1"/>
<line x1="141.0" y1="444.0" x2="141.0" y2="447.3" stroke="#000" stroke-width="1.1"/>
<line x1="146.0" y1="444.0" x2="146.0" y2="447.3" stroke="#000" stroke-width="1.1"/>
<line x1="149.5" y1="444.0" x2="149.5" y2="447.3" stroke="#000" stroke-width="1.1"/>
<line x1="152.3" y1="444.0" x2="152.3" y2="447.3" stroke="#000" stroke-width="1.1"/>
<line x1="154.5" y1="444.0" x2="154.5" y2="447.3" stroke="#000" stroke-width="1.1"/>
<line x1="156.4" y1="444.0" x2="156.4" y2="447.3" stroke="#000" stroke-width="1.1"/>
<line x1="158.1" y1="444.0" x2="158.1" y2="447.3" stroke="#000" stroke-width="1.1"/>
<line x1="159.5" y1="444.0" x2="159.5" y2="447.3" stroke="#000" stroke-width="1.1"/>
<line x1="160.8" y1="444.0" x2="160.8" y2="448.8" stroke="#000" stroke-width="1.1"/>
<line x1="169.3" y1="444.0" x2="169.3" y2="447.3" stroke="#000" stroke-width="1.1"/>
<line x1="174.3" y1="444.0" x2="174.3" y2="447.3" stroke="#000" stroke-width="1.1"/>
<line x1="177.8" y1="444.0" x2="177.8" y2="447.3" stroke="#000" stroke-width="1.1"/>
<line x1="180.6" y1="444.0" x2="180.6" y2="447.3" stroke="#000" stroke-width="1.1"/>
<line x1="182.8" y1="444.0" x2="182.8" y2="447.3" stroke="#000" stroke-width="1.1"/>
<line x1="184.7" y1="444.0" x2="184.7" y2="447.3" stroke="#000" stroke-width="1.1"/>
<line x1="186.4" y1="444.0" x2="186.4" y2="447.3" stroke="#000" stroke-width="1.1"/>
<line x1="187.8" y1="444.0" x2="187.8" y2="447.3" stroke="#000" stroke-width="1.1"/>
<line x1="189.1" y1="444.0" x2="189.1" y2="448.8" stroke="#000" stroke-width="1.1"/>
<line x1="197.6" y1="444.0" x2="197.6" y2="447.3" stroke="#000" stroke-width="1.1"/>
<line x1="202.6" y1="444.0" x2="202.6" y2="447.3" stroke="#000" stroke-width="1.1"/>
<line x1="206.1" y1="444.0" x2="206.1" y2="447.3" stroke="#000" stroke-width="1.1"/>
<line x1="208.9" y1="444.0" x2="208.9" y2="447.3" stroke="#000" stroke-width="1.1"/>
<line x1="211.1" y1="444.0" x2="211.1" y2="447.3" stroke="#000" stroke-width="1.1"/>
<line x1="213.0" y1="444.0" x2="213.0" y2="447.3" stroke="#000" stroke-width="1.1"/>
<line x1="214.7" y1="444.0" x2="214.7" y2="447.3" stroke="#000" stroke-width="1.1"/>
<line x1="216.1" y1="444.0" x2="216.1" y2="447.3" stroke="#000" stroke-width="1.1"/>
<line x1="217.4" y1="444.0" x2="217.4" y2="448.6" stroke="#000" stroke-width="0.9"/>
<text transform="translate(98.0,458.7) scale(0.82,1)" font-size="9.6" fill="#000" stroke="#000" stroke-width="0.3">10</text>
<text transform="translate(106.2,453.3) scale(0.84,1)" font-size="9" fill="#000" stroke="#000" stroke-width="0.3">0</text>
<text transform="translate(126.3,458.7) scale(0.82,1)" font-size="9.6" fill="#000" stroke="#000" stroke-width="0.3">10</text>
<text transform="translate(134.5,453.3) scale(0.84,1)" font-size="9" fill="#000" stroke="#000" stroke-width="0.3">1</text>
<text transform="translate(154.6,458.7) scale(0.82,1)" font-size="9.6" fill="#000" stroke="#000" stroke-width="0.3">10</text>
<text transform="translate(162.8,453.3) scale(0.84,1)" font-size="9" fill="#000" stroke="#000" stroke-width="0.3">2</text>
<text transform="translate(182.9,458.7) scale(0.82,1)" font-size="9.6" fill="#000" stroke="#000" stroke-width="0.3">10</text>
<text transform="translate(191.1,453.3) scale(0.84,1)" font-size="9" fill="#000" stroke="#000" stroke-width="0.3">3</text>
<text transform="translate(211.2,458.7) scale(0.82,1)" font-size="9.6" fill="#000" stroke="#000" stroke-width="0.3">10</text>
<text transform="translate(219.4,453.3) scale(0.84,1)" font-size="9" fill="#000" stroke="#000" stroke-width="0.3">4</text>
<text transform="translate(96.0,377.6) rotate(-90) scale(1,1.15)" text-anchor="middle" font-size="8" font-weight="bold" fill="#000">100</text>
<text transform="translate(96.0,444.0) rotate(-90) scale(1,1.15)" text-anchor="middle" font-size="8" font-weight="bold" fill="#000">0</text>
<text transform="translate(87.6,413.4) rotate(-90) scale(1,1.15)" text-anchor="middle" font-size="8" font-weight="bold" fill="#000">Counts</text>
<line x1="160.6" y1="403.4" x2="160.6" y2="418.1" stroke="#000" stroke-width="1.6"/>
<line x1="160.6" y1="410.9" x2="217.1" y2="410.9" stroke="#000" stroke-width="1.4"/>
<text x="176.3" y="406.9" font-size="11" letter-spacing="0.3" fill="#000" stroke="#000" stroke-width="0.3">5.7%</text>
<text x="130.9" y="389.2" font-size="12" fill="#000" stroke="#000" stroke-width="0.25">MFI</text>
<text x="157.3" y="389.2" font-size="12" fill="#000" stroke="#000" stroke-width="0.25">46</text>
<text transform="translate(32.9,407.9) scale(1.03,1.08)" font-size="13.5" letter-spacing="0" fill="#000" stroke="#000" stroke-width="0.15">PMA +</text>
<text transform="translate(0.2,425.6) scale(1.03,1.08)" font-size="13.5" letter-spacing="0.43" fill="#000" stroke="#000" stroke-width="0.15">ionomycine</text>
<text x="22.4" y="18.8" font-size="22.5" font-weight="bold" fill="#000">A</text>
<line x1="95.4" y1="471.1" x2="210" y2="471.1" stroke="#000" stroke-width="1.7"/>
<polygon points="208.5,467.5 219.8,471.1 208.5,474.7" fill="#000"/>
<text x="157.7" y="490.8" text-anchor="middle" font-size="14" font-weight="bold" letter-spacing="0.8" fill="#000">Fas</text>
<text x="292.2" y="18.8" font-size="23" font-weight="bold" fill="#000">B</text>
<rect x="347.25" y="9.6" width="128.6" height="87.1" fill="none" stroke="#000" stroke-width="1.8"/>
<line x1="357" y1="24.9" x2="373.3" y2="24.9" stroke="#000" stroke-width="1.05"/>
<circle cx="365.2" cy="24.9" r="2.69" fill="#000"/>
<text x="375.6" y="28.8" font-size="11" font-weight="bold" fill="#000">anti-CD3</text>
<line x1="357" y1="39.4" x2="373.3" y2="39.4" stroke="#000" stroke-width="1.05"/>
<circle cx="365.2" cy="39.4" r="2.38" fill="#fff" stroke="#000" stroke-width="1.2"/>
<text x="375.6" y="43.3" font-size="11" font-weight="bold" fill="#000">PMA+Ionomycine</text>
<line x1="357" y1="54.1" x2="373.3" y2="54.1" stroke="#000" stroke-width="1.05"/>
<polygon points="365.2,50.9 368.3,56.0 362.1,56.0" fill="#000"/>
<text x="375.6" y="58.0" font-size="11" font-weight="bold" fill="#000">PHA</text>
<line x1="357" y1="69.9" x2="373.3" y2="69.9" stroke="#000" stroke-width="1.05"/>
<polygon points="365.2,67.2 367.7,71.5 362.7,71.5" fill="#fff" stroke="#000" stroke-width="1.05"/>
<text x="375.6" y="73.8" font-size="11" font-weight="bold" fill="#000">IgG1</text>
<line x1="357" y1="84.8" x2="373.3" y2="84.8" stroke="#000" stroke-width="1.05"/>
<path d="M362.9,82.5 L367.5,87.1 M367.5,82.5 L362.9,87.1" stroke="#000" stroke-width="1.2" fill="none"/>
<text x="375.6" y="88.7" font-size="11" font-weight="bold" fill="#000">control</text>
<line x1="314.0" y1="249.6" x2="509.6" y2="249.6" stroke="#333" stroke-width="1.0"/>
<line x1="314.0" y1="121.3" x2="314.0" y2="252.7" stroke="#000" stroke-width="1.1"/>
<line x1="311.2" y1="121.8" x2="314.0" y2="121.8" stroke="#000" stroke-width="1.2"/>
<text x="310.1" y="126.8" text-anchor="end" font-size="12" font-weight="bold" fill="#000">15</text>
<line x1="311.2" y1="164.3" x2="314.0" y2="164.3" stroke="#000" stroke-width="1.2"/>
<text x="310.1" y="169.3" text-anchor="end" font-size="12" font-weight="bold" fill="#000">10</text>
<line x1="311.2" y1="206.8" x2="314.0" y2="206.8" stroke="#000" stroke-width="1.2"/>
<text x="310.1" y="211.8" text-anchor="end" font-size="12" font-weight="bold" fill="#000">5</text>
<line x1="311.2" y1="249.2" x2="314.0" y2="249.2" stroke="#000" stroke-width="1.2"/>
<text x="310.1" y="254.2" text-anchor="end" font-size="12" font-weight="bold" fill="#000">0</text>
<line x1="314.2" y1="249.2" x2="314.2" y2="252.7" stroke="#000" stroke-width="1.2"/>
<text x="314.2" y="264.8" text-anchor="middle" font-size="11.8" font-weight="bold" fill="#000">0</text>
<line x1="411.9" y1="249.2" x2="411.9" y2="252.7" stroke="#000" stroke-width="1.2"/>
<text x="411.9" y="264.8" text-anchor="middle" font-size="11.8" font-weight="bold" fill="#000">24</text>
<line x1="509.6" y1="249.2" x2="509.6" y2="252.7" stroke="#000" stroke-width="1.2"/>
<text x="509.6" y="264.8" text-anchor="middle" font-size="11.8" font-weight="bold" fill="#000">48</text>
<text x="412.2" y="284.6" text-anchor="middle" font-size="12" font-weight="bold" fill="#000">time (hours)</text>
<polyline points="314.20,244.11 330.48,244.11 379.32,245.80 411.88,240.71 509.56,239.01" fill="none" stroke="#000" stroke-width="1.35"/>
<polyline points="314.20,244.11 330.48,244.11 379.32,247.50 411.88,238.16 509.56,232.22" fill="none" stroke="#000" stroke-width="1.35"/>
<polyline points="314.20,244.11 330.48,234.77 379.32,242.41 411.88,236.46 509.56,238.16" fill="none" stroke="#000" stroke-width="1.35"/>
<polyline points="314.20,244.11 330.48,242.83 379.32,245.38 411.88,199.11 509.56,207.60" fill="none" stroke="#000" stroke-width="1.35"/>
<polyline points="314.20,244.11 330.48,244.11 379.32,234.77 411.88,126.09 509.56,202.93" fill="none" stroke="#000" stroke-width="1.35"/>
<circle cx="314.2" cy="244.1" r="2.20" fill="#fff" stroke="#000" stroke-width="1.2"/>
<circle cx="330.5" cy="242.8" r="2.20" fill="#fff" stroke="#000" stroke-width="1.2"/>
<circle cx="379.3" cy="245.4" r="2.20" fill="#fff" stroke="#000" stroke-width="1.2"/>
<circle cx="411.9" cy="199.1" r="2.20" fill="#fff" stroke="#000" stroke-width="1.2"/>
<circle cx="509.6" cy="207.6" r="2.20" fill="#fff" stroke="#000" stroke-width="1.2"/>
<polygon points="314.2,241.2 317.0,245.8 311.4,245.8" fill="#fff" stroke="#000" stroke-width="1.05"/>
<polygon points="330.5,241.2 333.2,245.8 327.7,245.8" fill="#fff" stroke="#000" stroke-width="1.05"/>
<polygon points="379.3,244.6 382.1,249.2 376.6,249.2" fill="#fff" stroke="#000" stroke-width="1.05"/>
<polygon points="411.9,235.3 414.6,239.9 409.1,239.9" fill="#fff" stroke="#000" stroke-width="1.05"/>
<polygon points="509.6,229.3 512.3,234.0 506.8,234.0" fill="#fff" stroke="#000" stroke-width="1.05"/>
<path d="M311.8,241.7 L316.6,246.5 M316.6,241.7 L311.8,246.5" stroke="#000" stroke-width="1.2" fill="none"/>
<path d="M328.1,241.7 L332.9,246.5 M332.9,241.7 L328.1,246.5" stroke="#000" stroke-width="1.2" fill="none"/>
<path d="M376.9,243.4 L381.7,248.2 M381.7,243.4 L376.9,248.2" stroke="#000" stroke-width="1.2" fill="none"/>
<path d="M409.5,238.3 L414.3,243.1 M414.3,238.3 L409.5,243.1" stroke="#000" stroke-width="1.2" fill="none"/>
<path d="M507.2,236.6 L512.0,241.4 M512.0,236.6 L507.2,241.4" stroke="#000" stroke-width="1.2" fill="none"/>
<polygon points="314.2,241.2 317.0,245.8 311.4,245.8" fill="#000"/>
<polygon points="330.5,231.9 333.2,236.5 327.7,236.5" fill="#000"/>
<polygon points="379.3,239.5 382.1,244.1 376.6,244.1" fill="#000"/>
<polygon points="411.9,233.6 414.6,238.2 409.1,238.2" fill="#000"/>
<polygon points="509.6,235.3 512.3,239.9 506.8,239.9" fill="#000"/>
<circle cx="314.2" cy="244.1" r="2.40" fill="#000"/>
<circle cx="330.5" cy="244.1" r="2.40" fill="#000"/>
<circle cx="379.3" cy="234.8" r="2.40" fill="#000"/>
<circle cx="411.9" cy="126.1" r="2.40" fill="#000"/>
<circle cx="509.6" cy="202.9" r="2.40" fill="#000"/>
<circle cx="330.5" cy="242.8" r="2.20" fill="#fff" stroke="#000" stroke-width="1.2"/>
<text transform="translate(291,178) rotate(-90)" text-anchor="middle" font-size="11.5" font-weight="bold" fill="#000">% of Fas<tspan font-size="7.5" dy="-4.5">hi</tspan><tspan dy="4.5"> cells</tspan></text>
<line x1="313.9" y1="431.7" x2="512.4" y2="431.7" stroke="#333" stroke-width="1.0"/>
<line x1="313.9" y1="300.2" x2="313.9" y2="434.8" stroke="#000" stroke-width="1.1"/>
<line x1="311.1" y1="300.7" x2="313.9" y2="300.7" stroke="#000" stroke-width="1.2"/>
<text x="310.0" y="305.7" text-anchor="end" font-size="12" font-weight="bold" fill="#000">80</text>
<line x1="311.1" y1="333.4" x2="313.9" y2="333.4" stroke="#000" stroke-width="1.2"/>
<text x="310.0" y="338.4" text-anchor="end" font-size="12" font-weight="bold" fill="#000">60</text>
<line x1="311.1" y1="366.0" x2="313.9" y2="366.0" stroke="#000" stroke-width="1.2"/>
<text x="310.0" y="371.0" text-anchor="end" font-size="12" font-weight="bold" fill="#000">40</text>
<line x1="311.1" y1="398.7" x2="313.9" y2="398.7" stroke="#000" stroke-width="1.2"/>
<text x="310.0" y="403.7" text-anchor="end" font-size="12" font-weight="bold" fill="#000">20</text>
<line x1="311.1" y1="431.3" x2="313.9" y2="431.3" stroke="#000" stroke-width="1.2"/>
<text x="310.0" y="436.3" text-anchor="end" font-size="12" font-weight="bold" fill="#000">0</text>
<line x1="314.0" y1="431.3" x2="314.0" y2="434.8" stroke="#000" stroke-width="1.2"/>
<text x="314.0" y="447.0" text-anchor="middle" font-size="11.8" font-weight="bold" fill="#000">0</text>
<line x1="413.2" y1="431.3" x2="413.2" y2="434.8" stroke="#000" stroke-width="1.2"/>
<text x="413.2" y="447.0" text-anchor="middle" font-size="11.8" font-weight="bold" fill="#000">24</text>
<line x1="512.4" y1="431.3" x2="512.4" y2="434.8" stroke="#000" stroke-width="1.2"/>
<text x="512.4" y="447.0" text-anchor="middle" font-size="11.8" font-weight="bold" fill="#000">48</text>
<text x="413.3" y="466.2" text-anchor="middle" font-size="12.4" font-weight="bold" fill="#000">time (hours)</text>
<polyline points="314.00,428.04 330.53,428.04 380.13,427.22 413.19,426.40 512.38,419.87" fill="none" stroke="#000" stroke-width="1.35"/>
<polyline points="314.00,428.04 330.53,428.04 380.13,428.04 413.19,426.40 512.38,420.85" fill="none" stroke="#000" stroke-width="1.35"/>
<polyline points="314.00,428.04 330.53,428.04 380.13,408.44 413.19,412.36 512.38,401.26" fill="none" stroke="#000" stroke-width="1.35"/>
<polyline points="314.00,428.04 330.53,428.04 380.13,386.57 413.19,384.28 512.38,381.67" fill="none" stroke="#000" stroke-width="1.35"/>
<polyline points="314.00,428.04 330.53,401.26 380.13,316.37 413.19,344.29 512.38,365.51" fill="none" stroke="#000" stroke-width="1.35"/>
<circle cx="314.0" cy="428.0" r="2.20" fill="#fff" stroke="#000" stroke-width="1.2"/>
<circle cx="330.5" cy="401.3" r="2.20" fill="#fff" stroke="#000" stroke-width="1.2"/>
<circle cx="380.1" cy="316.4" r="2.20" fill="#fff" stroke="#000" stroke-width="1.2"/>
<circle cx="413.2" cy="344.3" r="2.20" fill="#fff" stroke="#000" stroke-width="1.2"/>
<circle cx="512.4" cy="365.5" r="2.20" fill="#fff" stroke="#000" stroke-width="1.2"/>
<polygon points="314.0,425.1 316.8,429.8 311.2,429.8" fill="#fff" stroke="#000" stroke-width="1.05"/>
<polygon points="330.5,425.1 333.3,429.8 327.8,429.8" fill="#fff" stroke="#000" stroke-width="1.05"/>
<polygon points="380.1,425.1 382.9,429.8 377.4,429.8" fill="#fff" stroke="#000" stroke-width="1.05"/>
<polygon points="413.2,423.5 415.9,428.1 410.4,428.1" fill="#fff" stroke="#000" stroke-width="1.05"/>
<polygon points="512.4,418.0 515.1,422.6 509.6,422.6" fill="#fff" stroke="#000" stroke-width="1.05"/>
<path d="M311.6,425.6 L316.4,430.4 M316.4,425.6 L311.6,430.4" stroke="#000" stroke-width="1.2" fill="none"/>
<path d="M328.1,425.6 L332.9,430.4 M332.9,425.6 L328.1,430.4" stroke="#000" stroke-width="1.2" fill="none"/>
<path d="M377.7,424.8 L382.5,429.6 M382.5,424.8 L377.7,429.6" stroke="#000" stroke-width="1.2" fill="none"/>
<path d="M410.8,424.0 L415.6,428.8 M415.6,424.0 L410.8,428.8" stroke="#000" stroke-width="1.2" fill="none"/>
<path d="M510.0,417.5 L514.8,422.3 M514.8,417.5 L510.0,422.3" stroke="#000" stroke-width="1.2" fill="none"/>
<polygon points="314.0,425.1 316.8,429.8 311.2,429.8" fill="#000"/>
<polygon points="330.5,425.1 333.3,429.8 327.8,429.8" fill="#000"/>
<polygon points="380.1,405.5 382.9,410.2 377.4,410.2" fill="#000"/>
<polygon points="413.2,409.5 415.9,414.1 410.4,414.1" fill="#000"/>
<polygon points="512.4,398.4 515.1,403.0 509.6,403.0" fill="#000"/>
<circle cx="314.0" cy="428.0" r="2.40" fill="#000"/>
<circle cx="330.5" cy="428.0" r="2.40" fill="#000"/>
<circle cx="380.1" cy="386.6" r="2.40" fill="#000"/>
<circle cx="413.2" cy="384.3" r="2.40" fill="#000"/>
<circle cx="512.4" cy="381.7" r="2.40" fill="#000"/>
<text transform="translate(290.8,358.3) rotate(-90)" text-anchor="middle" font-size="10.3" font-weight="bold" fill="#000">% of CD25-positive cells</text>
</svg>
</body></html>
